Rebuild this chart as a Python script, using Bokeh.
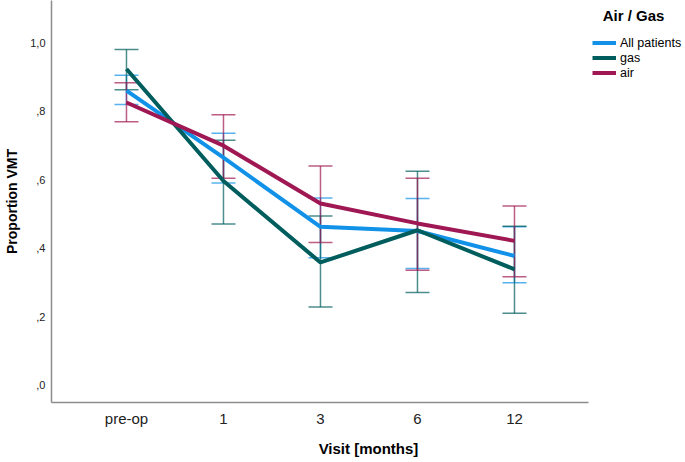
from bokeh.plotting import figure
from bokeh.models import (ColumnDataSource, Whisker, TeeHead, Legend, LegendItem,
                          FixedTicker, Range1d, Label)
from bokeh.embed import file_html
from bokeh.resources import INLINE

# ---- data ----
visits = ["pre-op", "1", "3", "6", "12"]
all_mean = [0.860, 0.664, 0.462, 0.450, 0.377]
all_lower = [0.819, 0.590, 0.372, 0.340, 0.299]
all_upper = [0.905, 0.735, 0.546, 0.545, 0.462]
gas_mean = [0.923, 0.596, 0.358, 0.452, 0.338]
gas_lower = [0.862, 0.470, 0.228, 0.270, 0.210]
gas_upper = [0.980, 0.715, 0.494, 0.624, 0.464]
air_mean = [0.825, 0.699, 0.530, 0.472, 0.421]
air_lower = [0.769, 0.604, 0.416, 0.335, 0.316]
air_upper = [0.883, 0.789, 0.640, 0.604, 0.523]
series_names = ["All patients", "gas", "air"]
legend_title = "Air / Gas"
y_ticks = [0.0, 0.2, 0.4, 0.6, 0.8, 1.0]
y_tick_labels = [",0", ",2", ",4", ",6", ",8", "1,0"]

colors = {"All patients": "#1192e8", "gas": "#005d5d", "air": "#9f1853"}
FONT = "Liberation Sans"

xs = list(range(len(visits)))

p = figure(width=685, height=462, output_backend="svg", toolbar_location=None,
           x_range=Range1d(-0.773, 5.763), y_range=Range1d(-0.051, 1.123),
           min_border_left=51, min_border_right=0, min_border_top=0,
           min_border_bottom=60)
p.outline_line_color = None
p.xgrid.grid_line_color = None
p.ygrid.grid_line_color = None
p.background_fill_color = "white"

series = {
    "All patients": (all_mean, all_lower, all_upper),
    "gas": (gas_mean, gas_lower, gas_upper),
    "air": (air_mean, air_lower, air_upper),
}

# error bars
for name in series_names:
    m, lo, up = series[name]
    src = ColumnDataSource(dict(x=xs, lower=lo, upper=up))
    c = colors[name]
    w = Whisker(base="x", lower="lower", upper="upper", source=src,
                line_color=c, line_alpha=0.7, line_width=1.5,
                upper_head=TeeHead(size=24, line_color=c, line_alpha=0.7, line_width=1.5),
                lower_head=TeeHead(size=24, line_color=c, line_alpha=0.7, line_width=1.5))
    p.add_layout(w)

# lines
renderers = {}
for name in series_names:
    m, lo, up = series[name]
    r = p.line(xs, m, line_color=colors[name], line_width=4)
    renderers[name] = r

# axes
p.xaxis.ticker = FixedTicker(ticks=xs)
p.xaxis.major_label_overrides = {i: v for i, v in zip(xs, visits)}
p.xaxis.bounds = (-0.773, 4.763)
p.yaxis.ticker = FixedTicker(ticks=y_ticks)
p.yaxis.major_label_overrides = {t: l for t, l in zip(y_ticks, y_tick_labels)}
for ax in (p.xaxis[0], p.yaxis[0]):
    ax.axis_line_color = "#8c8c8c"
    ax.axis_line_width = 1.5
    ax.major_tick_line_color = None
    ax.minor_tick_line_color = None
    ax.major_tick_out = 0
    ax.major_tick_in = 0
    ax.major_label_text_font = FONT
    ax.major_label_text_color = "#222222"
    ax.axis_label_text_font = FONT
    ax.axis_label_text_font_style = "bold"
    ax.axis_label_text_color = "black"

p.xaxis.axis_label = "Visit [months]"
p.xaxis.major_label_text_font_size = "15px"
p.xaxis.major_label_standoff = 7
p.xaxis.axis_label_text_font_size = "15px"
p.xaxis.axis_label_standoff = 10

p.yaxis.axis_label = "Proportion VMT"
p.yaxis.major_label_text_font_size = "11px"
p.yaxis.major_label_standoff = 6
p.yaxis.axis_label_text_font_size = "14px"
p.yaxis.axis_label_standoff = 7

# legend title as label
p.add_layout(Label(x=5.227, y=1.079, text=legend_title, text_font=FONT,
                   text_font_style="bold", text_font_size="15px",
                   text_align="center", text_baseline="middle", text_color="black"))

legend = Legend(items=[LegendItem(label=n, renderers=[renderers[n]]) for n in series_names],
                location=(541, 322), orientation="vertical",
                border_line_color=None, background_fill_alpha=0,
                padding=0, margin=0, spacing=0,
                glyph_width=24, glyph_height=15, label_height=15,
                label_standoff=4, label_text_font=FONT, label_text_font_size="12.5px",
                label_text_color="black")
p.add_layout(legend, "center")

open("out.html", "w").write(file_html(p, INLINE))
